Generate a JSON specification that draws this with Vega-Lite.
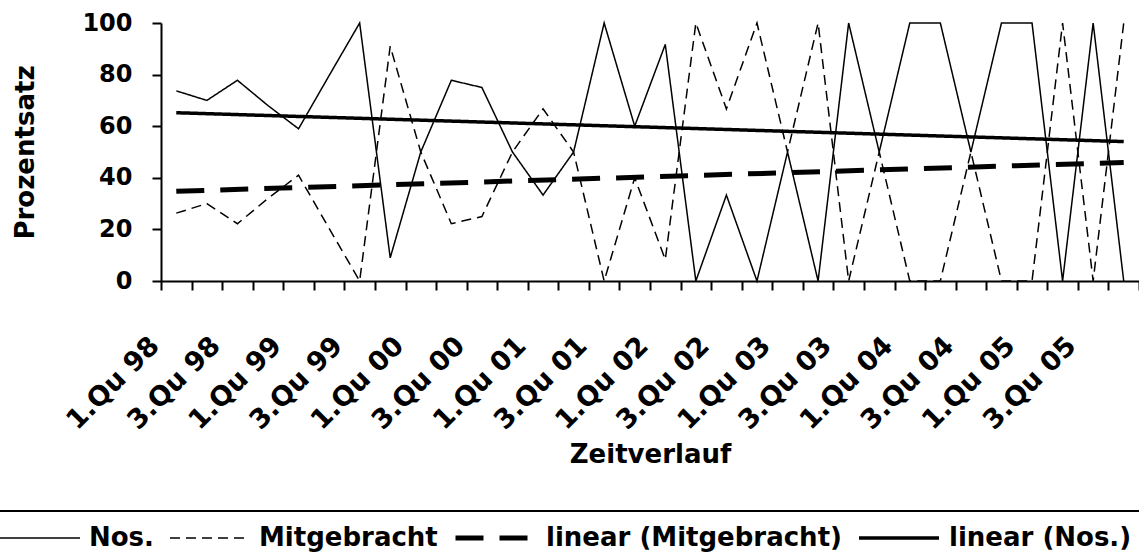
{
  "$schema": "https://vega.github.io/schema/vega-lite/v6.json",
  "autosize": {"type": "none"},
  "padding": {"left": 161, "top": 23, "right": 0, "bottom": 279},
  "width": 978,
  "height": 258,
  "background": "white",
  "data": {"values": [
    {"q": "1.Qu 98", "i": 0, "s": "Nos.", "t": "linear (Nos.)", "v": 73.7},
    {"q": "2.Qu 98", "i": 1, "s": "Nos.", "t": "linear (Nos.)", "v": 70},
    {"q": "3.Qu 98", "i": 2, "s": "Nos.", "t": "linear (Nos.)", "v": 77.8},
    {"q": "4.Qu 98", "i": 3, "s": "Nos.", "t": "linear (Nos.)", "v": 68},
    {"q": "1.Qu 99", "i": 4, "s": "Nos.", "t": "linear (Nos.)", "v": 59},
    {"q": "2.Qu 99", "i": 5, "s": "Nos.", "t": "linear (Nos.)", "v": 79.6},
    {"q": "3.Qu 99", "i": 6, "s": "Nos.", "t": "linear (Nos.)", "v": 100},
    {"q": "4.Qu 99", "i": 7, "s": "Nos.", "t": "linear (Nos.)", "v": 9},
    {"q": "1.Qu 00", "i": 8, "s": "Nos.", "t": "linear (Nos.)", "v": 50},
    {"q": "2.Qu 00", "i": 9, "s": "Nos.", "t": "linear (Nos.)", "v": 77.8},
    {"q": "3.Qu 00", "i": 10, "s": "Nos.", "t": "linear (Nos.)", "v": 75},
    {"q": "4.Qu 00", "i": 11, "s": "Nos.", "t": "linear (Nos.)", "v": 50},
    {"q": "1.Qu 01", "i": 12, "s": "Nos.", "t": "linear (Nos.)", "v": 33.3},
    {"q": "2.Qu 01", "i": 13, "s": "Nos.", "t": "linear (Nos.)", "v": 50},
    {"q": "3.Qu 01", "i": 14, "s": "Nos.", "t": "linear (Nos.)", "v": 100},
    {"q": "4.Qu 01", "i": 15, "s": "Nos.", "t": "linear (Nos.)", "v": 60},
    {"q": "1.Qu 02", "i": 16, "s": "Nos.", "t": "linear (Nos.)", "v": 91.7},
    {"q": "2.Qu 02", "i": 17, "s": "Nos.", "t": "linear (Nos.)", "v": 0},
    {"q": "3.Qu 02", "i": 18, "s": "Nos.", "t": "linear (Nos.)", "v": 33.3},
    {"q": "4.Qu 02", "i": 19, "s": "Nos.", "t": "linear (Nos.)", "v": 0},
    {"q": "1.Qu 03", "i": 20, "s": "Nos.", "t": "linear (Nos.)", "v": 50},
    {"q": "2.Qu 03", "i": 21, "s": "Nos.", "t": "linear (Nos.)", "v": 0},
    {"q": "3.Qu 03", "i": 22, "s": "Nos.", "t": "linear (Nos.)", "v": 100},
    {"q": "4.Qu 03", "i": 23, "s": "Nos.", "t": "linear (Nos.)", "v": 50},
    {"q": "1.Qu 04", "i": 24, "s": "Nos.", "t": "linear (Nos.)", "v": 100},
    {"q": "2.Qu 04", "i": 25, "s": "Nos.", "t": "linear (Nos.)", "v": 100},
    {"q": "3.Qu 04", "i": 26, "s": "Nos.", "t": "linear (Nos.)", "v": 50},
    {"q": "4.Qu 04", "i": 27, "s": "Nos.", "t": "linear (Nos.)", "v": 100},
    {"q": "1.Qu 05", "i": 28, "s": "Nos.", "t": "linear (Nos.)", "v": 100},
    {"q": "2.Qu 05", "i": 29, "s": "Nos.", "t": "linear (Nos.)", "v": 0},
    {"q": "3.Qu 05", "i": 30, "s": "Nos.", "t": "linear (Nos.)", "v": 100},
    {"q": "4.Qu 05", "i": 31, "s": "Nos.", "t": "linear (Nos.)", "v": 0},
    {"q": "1.Qu 98", "i": 0, "s": "Mitgebracht", "t": "linear (Mitgebracht)", "v": 26.3},
    {"q": "2.Qu 98", "i": 1, "s": "Mitgebracht", "t": "linear (Mitgebracht)", "v": 30},
    {"q": "3.Qu 98", "i": 2, "s": "Mitgebracht", "t": "linear (Mitgebracht)", "v": 22.2},
    {"q": "4.Qu 98", "i": 3, "s": "Mitgebracht", "t": "linear (Mitgebracht)", "v": 32},
    {"q": "1.Qu 99", "i": 4, "s": "Mitgebracht", "t": "linear (Mitgebracht)", "v": 41},
    {"q": "2.Qu 99", "i": 5, "s": "Mitgebracht", "t": "linear (Mitgebracht)", "v": 20.4},
    {"q": "3.Qu 99", "i": 6, "s": "Mitgebracht", "t": "linear (Mitgebracht)", "v": 0},
    {"q": "4.Qu 99", "i": 7, "s": "Mitgebracht", "t": "linear (Mitgebracht)", "v": 91},
    {"q": "1.Qu 00", "i": 8, "s": "Mitgebracht", "t": "linear (Mitgebracht)", "v": 50},
    {"q": "2.Qu 00", "i": 9, "s": "Mitgebracht", "t": "linear (Mitgebracht)", "v": 22.2},
    {"q": "3.Qu 00", "i": 10, "s": "Mitgebracht", "t": "linear (Mitgebracht)", "v": 25},
    {"q": "4.Qu 00", "i": 11, "s": "Mitgebracht", "t": "linear (Mitgebracht)", "v": 50},
    {"q": "1.Qu 01", "i": 12, "s": "Mitgebracht", "t": "linear (Mitgebracht)", "v": 66.7},
    {"q": "2.Qu 01", "i": 13, "s": "Mitgebracht", "t": "linear (Mitgebracht)", "v": 50},
    {"q": "3.Qu 01", "i": 14, "s": "Mitgebracht", "t": "linear (Mitgebracht)", "v": 0},
    {"q": "4.Qu 01", "i": 15, "s": "Mitgebracht", "t": "linear (Mitgebracht)", "v": 40},
    {"q": "1.Qu 02", "i": 16, "s": "Mitgebracht", "t": "linear (Mitgebracht)", "v": 8.3},
    {"q": "2.Qu 02", "i": 17, "s": "Mitgebracht", "t": "linear (Mitgebracht)", "v": 100},
    {"q": "3.Qu 02", "i": 18, "s": "Mitgebracht", "t": "linear (Mitgebracht)", "v": 66.7},
    {"q": "4.Qu 02", "i": 19, "s": "Mitgebracht", "t": "linear (Mitgebracht)", "v": 100},
    {"q": "1.Qu 03", "i": 20, "s": "Mitgebracht", "t": "linear (Mitgebracht)", "v": 50},
    {"q": "2.Qu 03", "i": 21, "s": "Mitgebracht", "t": "linear (Mitgebracht)", "v": 100},
    {"q": "3.Qu 03", "i": 22, "s": "Mitgebracht", "t": "linear (Mitgebracht)", "v": 0},
    {"q": "4.Qu 03", "i": 23, "s": "Mitgebracht", "t": "linear (Mitgebracht)", "v": 50},
    {"q": "1.Qu 04", "i": 24, "s": "Mitgebracht", "t": "linear (Mitgebracht)", "v": 0},
    {"q": "2.Qu 04", "i": 25, "s": "Mitgebracht", "t": "linear (Mitgebracht)", "v": 0},
    {"q": "3.Qu 04", "i": 26, "s": "Mitgebracht", "t": "linear (Mitgebracht)", "v": 50},
    {"q": "4.Qu 04", "i": 27, "s": "Mitgebracht", "t": "linear (Mitgebracht)", "v": 0},
    {"q": "1.Qu 05", "i": 28, "s": "Mitgebracht", "t": "linear (Mitgebracht)", "v": 0},
    {"q": "2.Qu 05", "i": 29, "s": "Mitgebracht", "t": "linear (Mitgebracht)", "v": 100},
    {"q": "3.Qu 05", "i": 30, "s": "Mitgebracht", "t": "linear (Mitgebracht)", "v": 0},
    {"q": "4.Qu 05", "i": 31, "s": "Mitgebracht", "t": "linear (Mitgebracht)", "v": 100}
  ]},
  "layer": [
    {
      "mark": {"type": "line", "color": "black"},
      "encoding": {
        "x": {
          "field": "q", "type": "ordinal", "sort": null, "bandPosition": 0.5,
          "scale": {"type": "band", "paddingInner": 0, "paddingOuter": 0},
          "axis": {
            "title": "Zeitverlauf", "titleX": 489, "titleY": 181, "titleAlign": "center", "titleBaseline": "alphabetic", "titleAngle": 0,
            "tickBand": "extent", "labelAngle": -45, "labelAlign": "right", "labelBaseline": "alphabetic", "labelFontSize": 27,
            "labelOffset": -16, "labelPadding": 57, "labelOverlap": false, "labelFlush": false, "labelBound": false, "labelLimit": 300,
            "labelExpr": "substring(datum.label,0,1) == '1' || substring(datum.label,0,1) == '3' ? datum.label : ''"
          }
        },
        "y": {
          "field": "v", "type": "quantitative",
          "scale": {"domain": [0, 100], "nice": false, "zero": true},
          "axis": {
            "values": [0, 20, 40, 60, 80, 100], "labelPadding": 20,
            "title": "Prozentsatz", "titleAngle": 270, "titleAlign": "center", "titleBaseline": "alphabetic", "titleX": -128, "titleY": 129
          }
        },
        "strokeDash": {
          "field": "s", "type": "nominal",
          "scale": {"domain": ["Nos.", "Mitgebracht", "linear (Mitgebracht)", "linear (Nos.)"], "range": [[1, 0], [10, 6], [28, 16], [1, 0]]},
          "legend": {"title": null}
        },
        "strokeWidth": {
          "field": "s", "type": "ordinal",
          "scale": {"type": "ordinal", "domain": ["Nos.", "Mitgebracht", "linear (Mitgebracht)", "linear (Nos.)"], "range": [1.5, 1.5, 5, 3.5]},
          "legend": {"title": null}
        }
      }
    },
    {
      "transform": [{"regression": "v", "on": "i", "groupby": ["t"]}],
      "mark": {"type": "line", "color": "black"},
      "encoding": {
        "x": {"field": "i", "type": "quantitative", "scale": {"domain": [-0.5, 31.5], "nice": false, "zero": false}, "axis": null},
        "y": {"field": "v", "type": "quantitative"},
        "strokeDash": {
          "field": "t", "type": "nominal",
          "scale": {"domain": ["Nos.", "Mitgebracht", "linear (Mitgebracht)", "linear (Nos.)"], "range": [[1, 0], [10, 6], [28, 16], [1, 0]]},
          "legend": {"title": null}
        },
        "strokeWidth": {
          "field": "t", "type": "ordinal",
          "scale": {"type": "ordinal", "domain": ["Nos.", "Mitgebracht", "linear (Mitgebracht)", "linear (Nos.)"], "range": [1.5, 1.5, 5, 3.5]},
          "legend": {"title": null}
        }
      }
    }
  ],
  "resolve": {"scale": {"x": "independent"}},
  "config": {
    "font": "DejaVu Sans",
    "view": {"stroke": null},
    "axis": {
      "grid": false, "domainColor": "black", "domainWidth": 2, "tickColor": "black", "tickWidth": 2, "tickSize": 9,
      "labelColor": "black", "labelFont": "DejaVu Sans", "labelFontWeight": "bold", "labelFontSize": 24,
      "titleColor": "black", "titleFont": "DejaVu Sans", "titleFontWeight": "bold", "titleFontSize": 26
    },
    "legend": {
      "orient": "none", "legendX": -174, "legendY": 488, "direction": "horizontal",
      "symbolType": "stroke", "symbolSize": 6400, "symbolStrokeColor": "black",
      "labelFont": "DejaVu Sans", "labelFontWeight": "bold", "labelFontSize": 26, "labelColor": "black", "labelLimit": 400,
      "labelOffset": 8, "columnPadding": 15, "padding": 12, "strokeColor": "black", "strokeWidth": 2, "clipHeight": 30
    }
  }
}
